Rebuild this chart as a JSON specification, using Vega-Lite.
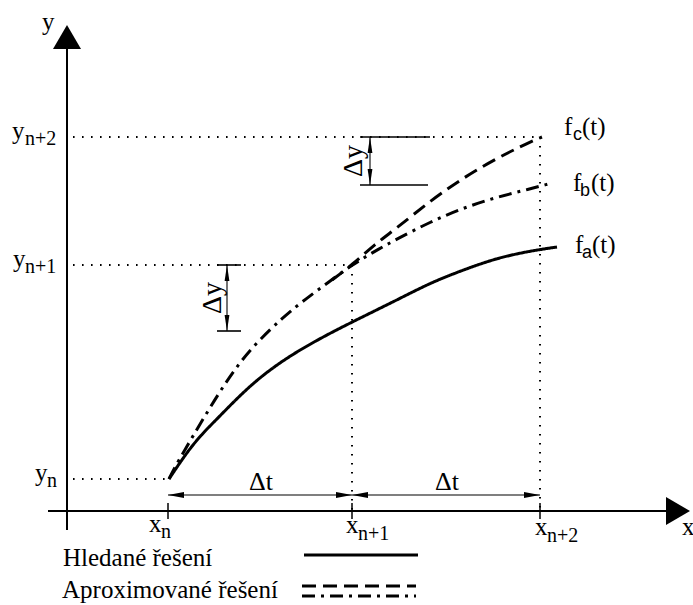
{
  "$schema": "https://vega.github.io/schema/vega-lite/v6.json",
  "width": 693,
  "height": 605,
  "autosize": {"type": "none"},
  "padding": 0,
  "background": "white",
  "config": {"view": {"stroke": null}, "font": "Liberation Serif", "text": {"font": "Liberation Serif"}},
  "datasets": {
    "curves": [
      {"id": "fa", "s": "solid", "x": 102, "y": 32},
      {"id": "fa", "s": "solid", "x": 118, "y": 56},
      {"id": "fa", "s": "solid", "x": 133, "y": 75},
      {"id": "fa", "s": "solid", "x": 150, "y": 92},
      {"id": "fa", "s": "solid", "x": 183, "y": 126},
      {"id": "fa", "s": "solid", "x": 216, "y": 151},
      {"id": "fa", "s": "solid", "x": 250, "y": 171},
      {"id": "fa", "s": "solid", "x": 283, "y": 188},
      {"id": "fa", "s": "solid", "x": 330, "y": 211},
      {"id": "fa", "s": "solid", "x": 363, "y": 228},
      {"id": "fa", "s": "solid", "x": 396, "y": 241},
      {"id": "fa", "s": "solid", "x": 430, "y": 253},
      {"id": "fa", "s": "solid", "x": 463, "y": 260},
      {"id": "fa", "s": "solid", "x": 490, "y": 264},
      {"id": "fb", "s": "dashdot", "x": 102, "y": 32},
      {"id": "fb", "s": "dashdot", "x": 108, "y": 44},
      {"id": "fb", "s": "dashdot", "x": 116, "y": 58},
      {"id": "fb", "s": "dashdot", "x": 136, "y": 92},
      {"id": "fb", "s": "dashdot", "x": 160, "y": 131},
      {"id": "fb", "s": "dashdot", "x": 183, "y": 162},
      {"id": "fb", "s": "dashdot", "x": 216, "y": 194},
      {"id": "fb", "s": "dashdot", "x": 240, "y": 213},
      {"id": "fb", "s": "dashdot", "x": 263, "y": 230},
      {"id": "fb", "s": "dashdot", "x": 285, "y": 246},
      {"id": "fb", "s": "dashdot", "x": 308, "y": 260},
      {"id": "fb", "s": "dashdot", "x": 330, "y": 272},
      {"id": "fb", "s": "dashdot", "x": 363, "y": 289},
      {"id": "fb", "s": "dashdot", "x": 396, "y": 303},
      {"id": "fb", "s": "dashdot", "x": 430, "y": 314},
      {"id": "fb", "s": "dashdot", "x": 463, "y": 322},
      {"id": "fb", "s": "dashdot", "x": 481, "y": 327},
      {"id": "fc", "s": "dashed", "x": 265, "y": 231},
      {"id": "fc", "s": "dashed", "x": 285, "y": 246},
      {"id": "fc", "s": "dashed", "x": 308, "y": 267},
      {"id": "fc", "s": "dashed", "x": 330, "y": 283},
      {"id": "fc", "s": "dashed", "x": 363, "y": 310},
      {"id": "fc", "s": "dashed", "x": 396, "y": 333},
      {"id": "fc", "s": "dashed", "x": 430, "y": 353},
      {"id": "fc", "s": "dashed", "x": 463, "y": 369},
      {"id": "fc", "s": "dashed", "x": 475, "y": 374},
      {"id": "legA", "s": "solid", "x": 237, "y": -44},
      {"id": "legA", "s": "solid", "x": 351, "y": -44},
      {"id": "legB1", "s": "dashed", "x": 235, "y": -75},
      {"id": "legB1", "s": "dashed", "x": 349, "y": -75},
      {"id": "legB2", "s": "dashdot", "x": 235, "y": -85},
      {"id": "legB2", "s": "dashdot", "x": 349, "y": -85}
    ],
    "axes": [
      {"x": 0, "y": 466, "x2": 0, "y2": -19},
      {"x": -19, "y": 0, "x2": 605, "y2": 0}
    ],
    "ticks": [
      {"x": 101, "y": 8, "x2": 101, "y2": -8},
      {"x": 285, "y": 8, "x2": 285, "y2": -8},
      {"x": 473, "y": 8, "x2": 473, "y2": -8}
    ],
    "dotted": [
      {"x": 6, "y": 374, "x2": 473, "y2": 374},
      {"x": 6, "y": 246, "x2": 285, "y2": 246},
      {"x": 6, "y": 32, "x2": 101, "y2": 32},
      {"x": 285, "y": 246, "x2": 285, "y2": 0},
      {"x": 473, "y": 374, "x2": 473, "y2": 0}
    ],
    "bars": [
      {"x": 150, "y": 246, "x2": 174, "y2": 246},
      {"x": 150, "y": 180, "x2": 174, "y2": 180},
      {"x": 293, "y": 374, "x2": 363, "y2": 374},
      {"x": 293, "y": 326, "x2": 361, "y2": 326}
    ],
    "shafts": [
      {"x": 101, "y": 16, "x2": 285, "y2": 16},
      {"x": 285, "y": 16, "x2": 473, "y2": 16},
      {"x": 160, "y": 246, "x2": 160, "y2": 180},
      {"x": 303, "y": 374, "x2": 303, "y2": 326}
    ],
    "heads": [
      {"x": 101, "y": 16, "d": "left"},
      {"x": 285, "y": 16, "d": "right"},
      {"x": 285, "y": 16, "d": "left"},
      {"x": 473, "y": 16, "d": "right"},
      {"x": 160, "y": 246, "d": "up"},
      {"x": 160, "y": 180, "d": "down"},
      {"x": 303, "y": 374, "d": "up"},
      {"x": 303, "y": 326, "d": "down"}
    ],
    "bigheads": [
      {"x": 0, "y": 486, "d": "bigup"},
      {"x": 623, "y": 0, "d": "bigright"}
    ],
    "main": [
      {"x": -25, "y": 489, "t": "y"},
      {"x": 615, "y": -16, "t": "x"},
      {"x": -55, "y": 380, "t": "y"},
      {"x": -54, "y": 252, "t": "y"},
      {"x": -32, "y": 38, "t": "y"},
      {"x": 82, "y": -13, "t": "x"},
      {"x": 279, "y": -14, "t": "x"},
      {"x": 468, "y": -16, "t": "x"},
      {"x": 497, "y": 384, "t": "f"},
      {"x": 515, "y": 384, "t": "(t)"},
      {"x": 506, "y": 328, "t": "f"},
      {"x": 524, "y": 328, "t": "(t)"},
      {"x": 508, "y": 266, "t": "f"},
      {"x": 525, "y": 266, "t": "(t)"},
      {"x": -4, "y": -47, "t": "Hledané řešení"},
      {"x": -5, "y": -79, "t": "Aproximované řešení"}
    ],
    "sub": [
      {"x": -42, "y": 372, "t": "n+2"},
      {"x": -42, "y": 244, "t": "n+1"},
      {"x": -20, "y": 30, "t": "n"},
      {"x": 94, "y": -21, "t": "n"},
      {"x": 291, "y": -23, "t": "n+1"},
      {"x": 480, "y": -25, "t": "n+2"}
    ],
    "subsans": [
      {"x": 506, "y": 376, "t": "c"},
      {"x": 513, "y": 320, "t": "b"},
      {"x": 515, "y": 258, "t": "a"}
    ],
    "dt": [
      {"x": 194, "y": 29, "t": "Δt"},
      {"x": 380, "y": 29, "t": "Δt"}
    ],
    "dy": [
      {"x": 146, "y": 213, "t": "Δy"},
      {"x": 287, "y": 350, "t": "Δy"}
    ]
  },
  "encoding": {
    "x": {"field": "x", "type": "quantitative", "scale": {"domain": [-67, 626], "nice": false, "zero": false}, "axis": null},
    "y": {"field": "y", "type": "quantitative", "scale": {"domain": [-94, 511], "nice": false, "zero": false}, "axis": null}
  },
  "layer": [
    {
      "data": {"name": "dotted"},
      "mark": {"type": "rule", "color": "black", "strokeWidth": 2, "strokeDash": [1.6, 7.4]},
      "encoding": {"x2": {"field": "x2"}, "y2": {"field": "y2"}}
    },
    {
      "data": {"name": "axes"},
      "mark": {"type": "rule", "color": "black", "strokeWidth": 2},
      "encoding": {"x2": {"field": "x2"}, "y2": {"field": "y2"}}
    },
    {
      "data": {"name": "ticks"},
      "mark": {"type": "rule", "color": "black", "strokeWidth": 1.5},
      "encoding": {"x2": {"field": "x2"}, "y2": {"field": "y2"}}
    },
    {
      "data": {"name": "bars"},
      "mark": {"type": "rule", "color": "black", "strokeWidth": 1.6},
      "encoding": {"x2": {"field": "x2"}, "y2": {"field": "y2"}}
    },
    {
      "data": {"name": "shafts"},
      "mark": {"type": "rule", "color": "black", "strokeWidth": 1.1},
      "encoding": {"x2": {"field": "x2"}, "y2": {"field": "y2"}}
    },
    {
      "data": {"name": "curves"},
      "mark": {"type": "line", "color": "black", "strokeWidth": 3, "interpolate": "basis", "strokeCap": "butt"},
      "encoding": {
        "detail": {"field": "id", "type": "nominal"},
        "strokeDash": {"field": "s", "type": "nominal", "scale": {"domain": ["solid", "dashdot", "dashed"], "range": [[1, 0], [13, 6, 3, 6], [14, 7]]}, "legend": null}
      }
    },
    {
      "data": {"name": "heads"},
      "mark": {"type": "point", "filled": true, "color": "black", "opacity": 1, "size": 256, "strokeWidth": 0},
      "encoding": {
        "shape": {"field": "d", "type": "nominal", "legend": null, "scale": {"domain": ["left", "right", "up", "down", "bigup", "bigright"], "range": ["M0,0L2,-0.37L2,0.37Z", "M0,0L-2,-0.37L-2,0.37Z", "M0,0L-0.3,2L0.3,2Z", "M0,0L-0.3,-2L0.3,-2Z", "M0,0L1,1.714L-1,1.714Z", "M0,0L-1.714,-1L-1.714,1Z"]}}
      }
    },
    {
      "data": {"name": "bigheads"},
      "mark": {"type": "point", "filled": true, "color": "black", "opacity": 1, "size": 784, "strokeWidth": 0},
      "encoding": {
        "shape": {"field": "d", "type": "nominal", "legend": null, "scale": {"domain": ["left", "right", "up", "down", "bigup", "bigright"], "range": ["M0,0L2,-0.37L2,0.37Z", "M0,0L-2,-0.37L-2,0.37Z", "M0,0L-0.3,2L0.3,2Z", "M0,0L-0.3,-2L0.3,-2Z", "M0,0L1,1.714L-1,1.714Z", "M0,0L-1.714,-1L-1.714,1Z"]}}
      }
    },
    {
      "data": {"name": "main"},
      "mark": {"type": "text", "font": "Liberation Serif, serif", "fontSize": 25, "align": "left", "color": "black"},
      "encoding": {"text": {"field": "t", "type": "nominal"}}
    },
    {
      "data": {"name": "sub"},
      "mark": {"type": "text", "font": "Liberation Serif, serif", "fontSize": 20, "align": "left", "color": "black"},
      "encoding": {"text": {"field": "t", "type": "nominal"}}
    },
    {
      "data": {"name": "subsans"},
      "mark": {"type": "text", "font": "Liberation Sans", "fontSize": 18, "align": "left", "color": "black"},
      "encoding": {"text": {"field": "t", "type": "nominal"}}
    },
    {
      "data": {"name": "dt"},
      "mark": {"type": "text", "font": "Liberation Serif, serif", "fontSize": 26, "align": "center", "color": "black"},
      "encoding": {"text": {"field": "t", "type": "nominal"}}
    },
    {
      "data": {"name": "dy"},
      "mark": {"type": "text", "font": "Liberation Serif, serif", "fontSize": 28, "align": "center", "angle": 270, "color": "black"},
      "encoding": {"text": {"field": "t", "type": "nominal"}}
    }
  ]
}
